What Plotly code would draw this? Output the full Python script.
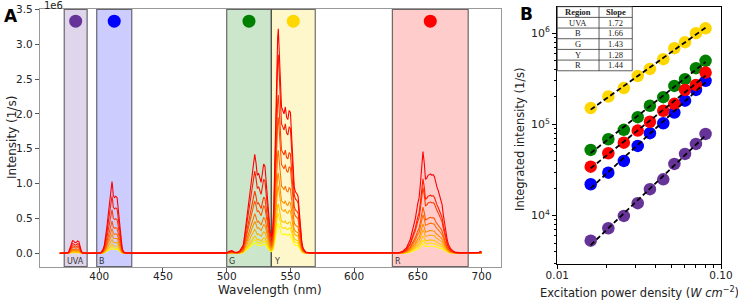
import numpy as np
import plotly.graph_objects as go

# ---------------- Data ----------------
# Panel A: bands (nm)
band_names = ["UVA", "B", "G", "Y", "R"]
band_lo = [372.5, 398.0, 500.0, 535.0, 630.0]
band_hi = [390.5, 425.5, 535.0, 569.5, 689.5]
band_colors = ["#663399", "#0000ff", "#008000", "#ffd700", "#ff0000"]
band_fill = ["rgba(102,51,153,0.2)", "rgba(0,0,255,0.2)", "rgba(0,128,0,0.2)",
             "rgba(255,215,0,0.2)", "rgba(255,0,0,0.2)"]
band_dot_y = 3.33e6

# Highest-power spectrum (wavelength nm, intensity 1/s)
wl_top = [369, 372, 375, 376, 377, 378, 379, 380, 381, 382, 383, 384, 385, 386, 387, 389,
          395, 400, 401, 402, 403, 404, 405, 406, 407, 408, 409, 410, 410.5, 411, 412, 413,
          414, 415, 416, 417, 418, 419, 421, 430, 450, 452, 454, 466, 468, 470, 495, 500,
          502, 504, 506, 508, 510, 512, 513, 514, 515, 516, 517, 518, 519, 520, 521, 522,
          523, 524, 525, 526, 527, 528, 529, 530, 531, 532, 533, 534, 535, 536, 537, 538,
          539, 540, 540.5, 541, 542, 543, 544, 545, 546, 547, 548, 549, 550, 551, 552, 553,
          554, 555, 556, 557, 558, 559, 560, 562, 565, 600, 630, 635, 638, 641, 644, 646,
          648, 650, 651, 652, 653, 654, 655, 656, 657, 658, 659, 660, 661, 662, 663, 664,
          665, 666, 667, 668, 669, 670, 671, 672, 673, 674, 675, 676, 678, 680, 685, 690,
          695, 698, 699, 700]
int_top = [0.004e6, 0.005e6, 0.008e6, 0.02e6, 0.08e6, 0.15e6, 0.182e6, 0.175e6, 0.155e6, 0.16e6,
           0.18e6, 0.17e6, 0.10e6, 0.03e6, 0.01e6, 0.005e6,
           0.005e6, 0.006e6, 0.01e6, 0.03e6, 0.06e6, 0.12e6, 0.22e6, 0.38e6, 0.55e6, 0.72e6,
           0.88e6, 1.03e6, 0.95e6, 0.83e6, 0.80e6, 0.82e6,
           0.80e6, 0.62e6, 0.38e6, 0.18e6, 0.07e6, 0.025e6, 0.008e6, 0.005e6, 0.006e6, 0.012e6,
           0.006e6, 0.006e6, 0.011e6, 0.006e6, 0.006e6, 0.008e6,
           0.03e6, 0.04e6, 0.02e6, 0.015e6, 0.03e6, 0.08e6, 0.12e6, 0.25e6, 0.40e6, 0.58e6,
           0.72e6, 0.85e6, 1.0e6, 1.15e6, 1.30e6, 1.42e6,
           1.30e6, 1.12e6, 1.15e6, 1.08e6, 1.02e6, 1.15e6, 1.28e6, 1.25e6, 1.0e6, 0.70e6,
           0.50e6, 0.33e6, 0.25e6, 0.30e6, 0.70e6, 1.50e6,
           2.50e6, 3.10e6, 3.22e6, 3.0e6, 2.4e6, 2.1e6, 2.05e6, 2.0e6, 2.1e6, 1.95e6, 1.92e6,
           2.05e6, 2.02e6, 1.6e6, 1.2e6, 0.95e6,
           0.88e6, 0.86e6, 0.82e6, 0.55e6, 0.30e6, 0.15e6, 0.07e6, 0.02e6, 0.008e6, 0.007e6,
           0.008e6, 0.01e6, 0.03e6, 0.08e6, 0.20e6, 0.35e6,
           0.50e6, 0.72e6, 0.80e6, 1.0e6, 1.30e6, 1.46e6, 1.30e6, 1.06e6, 1.08e6, 1.12e6,
           1.13e6, 1.14e6, 1.12e6, 1.13e6, 1.10e6, 1.0e6,
           0.95e6, 0.90e6, 0.82e6, 0.78e6, 0.70e6, 0.55e6, 0.42e6, 0.30e6, 0.20e6, 0.13e6,
           0.09e6, 0.06e6, 0.03e6, 0.015e6, 0.01e6, 0.008e6,
           0.01e6, 0.015e6, 0.03e6, 0.02e6]

# Panel B: excitation power density (W cm^-2) and integrated intensities (1/s)
power = [0.016, 0.0205, 0.0255, 0.031, 0.0368, 0.0444, 0.0519, 0.0603, 0.0703, 0.0805]
I_UVA = [5.32e3, 7.28e3, 9.93e3, 1.37e4, 1.95e4, 2.50e4, 3.69e4, 4.75e4, 6.11e4, 7.87e4]
I_B = [2.21e4, 2.96e4, 3.98e4, 5.81e4, 8.01e4, 1.03e5, 1.35e5, 1.82e5, 2.39e5, 3.00e5]
I_G = [5.25e4, 6.88e4, 8.71e4, 1.20e5, 1.60e5, 1.99e5, 2.64e5, 3.13e5, 4.13e5, 4.97e5]
I_Y = [1.51e5, 2.02e5, 2.50e5, 3.40e5, 4.06e5, 5.19e5, 6.85e5, 7.97e5, 1.0e6, 1.13e6]
I_R = [3.44e4, 4.83e4, 6.31e4, 8.55e4, 1.07e5, 1.41e5, 1.68e5, 2.39e5, 2.71e5, 3.70e5]

table_regions = ["UVA", "B", "G", "Y", "R"]
table_slopes = ["1.72", "1.66", "1.43", "1.28", "1.44"]

# ---------------- Figure ----------------
fig = go.Figure()
FONT = "DejaVu Sans"

# spectra: each curve scaled per band by its integrated intensity ratio
wl = np.array(wl_top, dtype=float)
itop = np.array(int_top, dtype=float)
series_by_band = [I_UVA, I_B, I_G, I_Y, I_R]
band_idx = np.select([wl < 394, wl < 480, wl < 535.5, wl < 600], [0, 1, 2, 3], 4)
n = len(power)
for i in range(n):
    fac = np.array([series_by_band[b][i] / series_by_band[b][-1] for b in band_idx])
    g = int(round(255 * (1 - i / (n - 1))))
    fig.add_trace(go.Scatter(x=wl, y=itop * fac, mode="lines",
                             line=dict(color=f"rgb(255,{g},0)", width=1.1),
                             xaxis="x", yaxis="y", showlegend=False, hoverinfo="skip"))

# band dots
centers = [(a + b) / 2 for a, b in zip(band_lo, band_hi)]
fig.add_trace(go.Scatter(x=centers, y=[band_dot_y] * len(centers), mode="markers",
                         marker=dict(color=band_colors, size=13, line=dict(width=0)),
                         xaxis="x", yaxis="y", showlegend=False))

shapes = []
annotations = []
for name, lo, hi, fc in zip(band_names, band_lo, band_hi, band_fill):
    shapes.append(dict(type="rect", xref="x", yref="y domain", x0=lo, x1=hi, y0=0, y1=1,
                       fillcolor=fc, line=dict(color="rgba(60,60,60,0.75)", width=1.2),
                       layer="below"))
    annotations.append(dict(x=lo + 0.6, y=0.02, xref="x", yref="y domain", text=name,
                            showarrow=False, xanchor="left", yanchor="middle",
                            font=dict(family=FONT, size=8, color="#333")))

# Panel B scatter + fits
series = [I_UVA, I_B, I_G, I_Y, I_R]
lx = np.log10(power)
for ys, col in zip(series, band_colors):
    fig.add_trace(go.Scatter(x=power, y=ys, mode="markers",
                             marker=dict(color=col, size=12.5, line=dict(width=0)),
                             xaxis="x2", yaxis="y2", showlegend=False))
for ys in series:
    k, b = np.polyfit(lx, np.log10(ys), 1)
    xx = [power[0], power[-1]]
    yy = [10 ** (b + k * np.log10(v)) for v in xx]
    fig.add_trace(go.Scatter(x=xx, y=yy, mode="lines",
                             line=dict(color="black", width=1.8, dash="5px,3px"),
                             xaxis="x2", yaxis="y2", showlegend=False))

# table in panel B
tx0, tx1, txm = 0.0, 0.458, 0.255
ty1 = 1.0
rh = 0.0415
nrows = len(table_regions) + 1
ty0 = ty1 - rh * nrows
shapes.append(dict(type="rect", xref="x2 domain", yref="y2 domain", x0=tx0, x1=tx1,
                   y0=ty0, y1=ty1, fillcolor="white", line=dict(color="#333", width=0.8),
                   layer="above"))
shapes.append(dict(type="line", xref="x2 domain", yref="y2 domain", x0=txm, x1=txm,
                   y0=ty0, y1=ty1, line=dict(color="#333", width=0.8), layer="above"))
for r in range(1, nrows):
    yline = ty1 - rh * r
    shapes.append(dict(type="line", xref="x2 domain", yref="y2 domain", x0=tx0, x1=tx1,
                       y0=yline, y1=yline, line=dict(color="#333", width=0.8), layer="above"))
rows = [("<b>Region</b>", "<b>Slope</b>")] + list(zip(table_regions, table_slopes))
for r, (a, s) in enumerate(rows):
    yc = ty1 - rh * (r + 0.5)
    for xc, t in (((tx0 + txm) / 2, a), ((txm + tx1) / 2, s)):
        annotations.append(dict(x=xc, y=yc, xref="x2 domain", yref="y2 domain", text=t,
                                showarrow=False, xanchor="center", yanchor="middle",
                                font=dict(family="Liberation Serif", size=8.5, color="#222")))


def ptext(x, y, text, size, angle=0, anchor="center", color="#222"):
    return dict(x=x / 738, y=1 - y / 300, xref="paper", yref="paper", text=text,
                textangle=angle, showarrow=False, xanchor=anchor, yanchor="middle",
                font=dict(family=FONT, size=size, color=color))


annotations += [
    ptext(12, 138, "Intensity (1/s)", 12, angle=-90),
    ptext(270, 290, "Wavelength (nm)", 12),
    ptext(42, 5, "1e6", 10, anchor="left"),
    ptext(2, 16, "<b>A</b>", 17, anchor="left", color="black"),
    ptext(518, 14, "<b>B</b>", 17, anchor="left", color="black"),
    ptext(520, 139, "Integrated intensity (1/s)", 11.5, angle=-90),
    ptext(639, 292, "Excitation power density (<i>W cm</i><sup>−2</sup>)", 11.5),
]

minor_y = [m * 10 ** e for e in (3, 4, 5, 6) for m in range(2, 10)]
minor_x = [m * 0.01 for m in range(2, 10)]

fig.update_layout(
    width=738, height=300, margin=dict(l=0, r=0, t=0, b=0, autoexpand=False),
    paper_bgcolor="white", plot_bgcolor="white", showlegend=False,
    font=dict(family=FONT, size=10.5, color="#222"),
    xaxis=dict(domain=[40 / 738, 500.7 / 738], range=[353.5, 715], automargin=False,
               tickvals=[400, 450, 500, 550, 600, 650, 700], ticks="outside", ticklen=4,
               ticklabelstandoff=-4,
               tickcolor="#555", showline=True, linecolor="#999", linewidth=1.2, mirror=True,
               showgrid=False, zeroline=False, tickfont=dict(size=10.5)),
    yaxis=dict(domain=[1 - 266.7 / 300, 1 - 9.3 / 300], range=[-0.19e6, 3.5e6],
               automargin=False,
               tickvals=[0, 0.5e6, 1e6, 1.5e6, 2e6, 2.5e6, 3e6, 3.5e6],
               ticktext=["0.0", "0.5", "1.0", "1.5", "2.0", "2.5", "3.0", "3.5"],
               ticks="outside", ticklen=4, tickcolor="#555", showline=True, linecolor="#999",
               linewidth=1.2, mirror=True, showgrid=False, zeroline=False,
               tickfont=dict(size=10.5)),
    xaxis2=dict(domain=[557.3 / 738, 721 / 738], type="log", range=[-2, -1], anchor="y2",
                automargin=False, ticklabelstandoff=-3,
                tickvals=[0.01, 0.1], ticktext=["0.01", "0.10"], ticks="outside", ticklen=4,
                tickcolor="black", showline=True, linecolor="black", linewidth=1.2,
                mirror=True, showgrid=False, zeroline=False, tickfont=dict(size=10.5),
                minor=dict(tickvals=minor_x, ticks="outside", ticklen=2.5,
                           tickcolor="black", showgrid=False)),
    yaxis2=dict(domain=[1 - 264 / 300, 1 - 6.7 / 300], type="log", range=[3.47, 6.29],
                anchor="x2", automargin=False, tickvals=[1e4, 1e5, 1e6],
                ticktext=["10<sup>4</sup>", "10<sup>5</sup>", "10<sup>6</sup>"],
                ticks="outside", ticklen=4, tickcolor="black", showline=True,
                linecolor="black", linewidth=1.2, mirror=True, showgrid=False,
                zeroline=False, tickfont=dict(size=11),
                minor=dict(tickvals=minor_y, ticks="outside", ticklen=2.5,
                           tickcolor="black", showgrid=False)),
    shapes=shapes, annotations=annotations,
)

fig.write_html("out.html")
